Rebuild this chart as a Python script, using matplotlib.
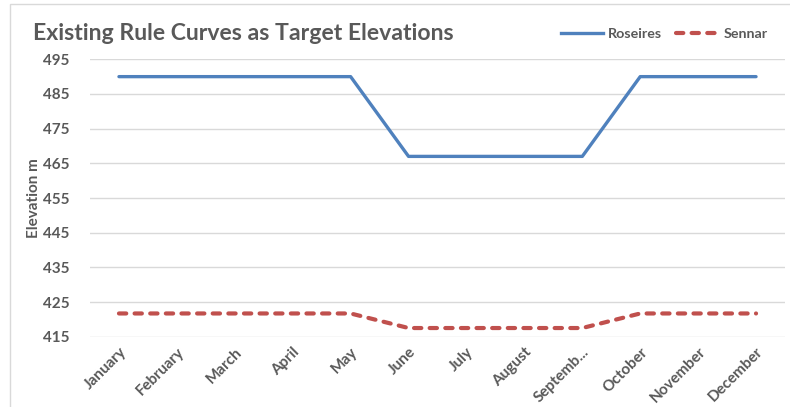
import matplotlib
matplotlib.use("Agg")
import matplotlib.pyplot as plt
from matplotlib.patches import Rectangle
from matplotlib.lines import Line2D

months = ["January", "February", "March", "April", "May", "June", "July",
          "August", "Septemb...", "October", "November", "December"]
roseires = [490, 490, 490, 490, 490, 467, 467, 467, 467, 490, 490, 490]
sennar = [421.7, 421.7, 421.7, 421.7, 421.7, 417.5, 417.5, 417.5, 417.5,
          421.7, 421.7, 421.7]
yticks = [415, 425, 435, 445, 455, 465, 475, 485, 495]

TEXT = "#595959"
GRID = "#D9D9D9"
BLUE = "#4F81BD"
RED = "#C0504D"
DASH = [1.75, 2.0]

plt.rcParams["font.family"] = ["Lato", "DejaVu Sans"]

W, H = 790, 407
fig = plt.figure(figsize=(W / 100, H / 100), dpi=100)
fig.patch.set_facecolor("white")

# outer chart frame
fig.patches.append(Rectangle((10 / W, -0.05), 1.0, (H - 4) / H + 0.05,
                             transform=fig.transFigure, fill=False,
                             edgecolor=GRID, linewidth=1.0))

ax = fig.add_axes([90 / W, (H - 336.7) / H, 695 / W, (336.7 - 59.3) / H])
x = list(range(len(months)))

ax.plot(x, roseires, color=BLUE, linewidth=2.4, solid_capstyle="round",
        solid_joinstyle="round", zorder=3)
ln, = ax.plot(x, sennar, color=RED, linewidth=3.0, dash_capstyle="round",
              zorder=3)
ln.set_dashes(DASH)

ax.set_xlim(-0.5, len(months) - 0.5)
ax.set_ylim(415, 495)
ax.set_yticks(yticks)
ax.set_xticks(x)
ax.set_xticklabels(months, rotation=45, ha="right", rotation_mode="anchor")
ax.grid(axis="y", color=GRID, linewidth=1.0)
ax.set_axisbelow(True)
for s in ax.spines.values():
    s.set_visible(False)
ax.tick_params(axis="both", length=0, colors=TEXT, labelsize=11)
ax.tick_params(axis="y", pad=15)
ax.tick_params(axis="x", pad=6)
for lab in ax.get_xticklabels() + ax.get_yticklabels():
    lab.set_fontweight("bold")

ax.set_ylabel("Elevation m", color=TEXT, fontsize=11, fontweight="bold")
ax.yaxis.set_label_coords(-0.0705, 0.5)

fig.text(33 / W, 1 - 33 / H, "Existing Rule Curves as Target Elevations",
         color=TEXT, fontsize=16.6, fontweight="bold", va="center", ha="left")

# legend
handles = [Line2D([], [], color=BLUE, linewidth=2.4),
           Line2D([], [], color=RED, linewidth=3.0, dashes=DASH,
                  dash_capstyle="round")]
fig.legend(handles, ["Roseires", "Sennar"], loc="center",
           bbox_to_anchor=(664 / W, 1 - 34 / H), ncol=2, frameon=False,
           handlelength=3.0, handletextpad=0.3, columnspacing=1.0,
           prop={"size": 10.3, "weight": "bold"}, labelcolor=TEXT)

fig.savefig("out.png", dpi=100, facecolor="white")
